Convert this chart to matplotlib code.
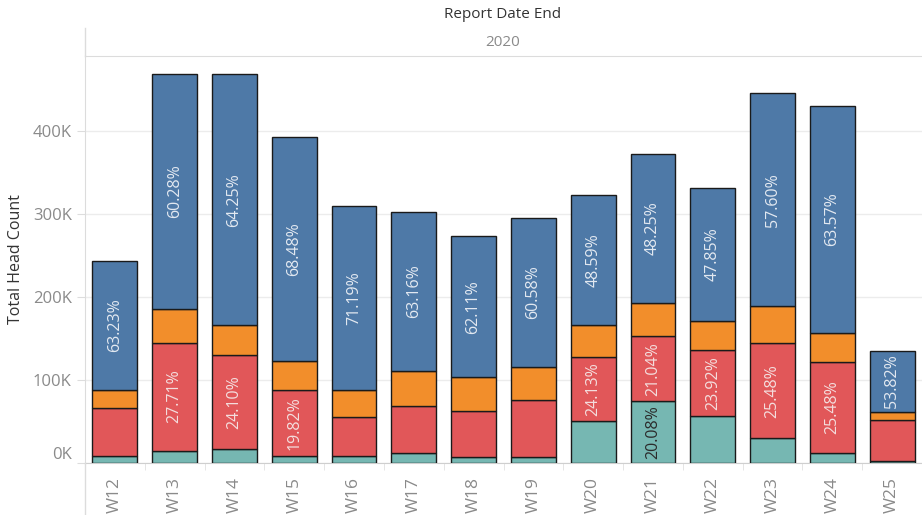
import matplotlib
matplotlib.use("Agg")
import matplotlib.pyplot as plt
from matplotlib.lines import Line2D
import numpy as np

plt.rcParams['font.family'] = ['Open Sans', 'DejaVu Sans']

weeks = ["W12", "W13", "W14", "W15", "W16", "W17", "W18",
         "W19", "W20", "W21", "W22", "W23", "W24", "W25"]
# segment values in thousands (bottom to top)
teal = [8.4, 15, 16.5, 8.4, 8.4, 11.7, 7, 7, 50, 74.5, 57, 30, 12, 2.4]
red = [57.6, 130, 113.5, 79.6, 46.6, 57.3, 56, 68.5, 78, 78, 79, 114, 110, 49.6]
orange = [22, 41, 36, 35, 33, 42, 40, 39.5, 38, 40, 35, 45, 35, 10]
blue = [155.5, 282, 302, 269, 222, 191, 170, 180.5, 157, 180, 160, 256, 273, 73]

blue_lbl = ["63.23%", "60.28%", "64.25%", "68.48%", "71.19%", "63.16%", "62.11%",
            "60.58%", "48.59%", "48.25%", "47.85%", "57.60%", "63.57%", "53.82%"]
red_lbl = ["", "27.71%", "24.10%", "19.82%", "", "", "",
           "", "24.13%", "21.04%", "23.92%", "25.48%", "25.48%", ""]
teal_lbl = ["", "", "", "", "", "", "", "", "", "20.08%", "", "", "", ""]

colors = {"teal": "#76b7b2", "red": "#e15759", "orange": "#f28e2b", "blue": "#4e79a7"}

fig = plt.figure(figsize=(9.22, 5.15), dpi=100)
ax = fig.add_axes([85/922, 52/515, 837/922, 407/515])

x = np.arange(len(weeks))
t = np.array(teal) * 1000
r = np.array(red) * 1000
o = np.array(orange) * 1000
b = np.array(blue) * 1000

w = 0.75
ax.bar(x, t, w, color=colors["teal"], edgecolor="#1a1a1a", linewidth=1, zorder=3)
ax.bar(x, r, w, bottom=t, color=colors["red"], edgecolor="#1a1a1a", linewidth=1, zorder=3)
ax.bar(x, o, w, bottom=t + r, color=colors["orange"], edgecolor="#1a1a1a", linewidth=1, zorder=3)
ax.bar(x, b, w, bottom=t + r + o, color=colors["blue"], edgecolor="#1a1a1a", linewidth=1, zorder=3)

for i in range(len(weeks)):
    ax.text(x[i], t[i] + r[i] + o[i] + b[i] / 2, blue_lbl[i], rotation=90,
            ha="center", va="center", color="#e3e9f1", fontsize=11.5, zorder=4)
    if red_lbl[i]:
        ax.text(x[i], t[i] + r[i] / 2, red_lbl[i], rotation=90,
                ha="center", va="center", color="#f4dede", fontsize=11.5, zorder=4)
    if teal_lbl[i]:
        ax.text(x[i], t[i] / 2, teal_lbl[i], rotation=90,
                ha="center", va="center", color="#2b2b2b", fontsize=11.5, zorder=4)

ax.set_xlim(-0.5, 13.45)
ax.set_ylim(0, 490000)
ax.set_yticks([0, 100000, 200000, 300000, 400000])
ax.set_yticklabels(["0K", "100K", "200K", "300K", "400K"])
ax.get_yticklabels()[0].set_va("bottom")
ax.set_xticks(x)
ax.set_xticklabels(weeks, rotation=90)
ax.set_xticks(np.arange(len(weeks)) + 0.5, minor=True)

ax.grid(axis="y", color="#ececec", linewidth=1, zorder=0)
ax.tick_params(axis="y", colors="#dddddd", labelcolor="#8a8a8a", labelsize=12, length=6)
ax.tick_params(axis="x", which="major", length=0, labelcolor="#8a8a8a", labelsize=12.5, pad=10)
ax.tick_params(axis="x", which="minor", colors="#e0e0e0", length=5)

ax.spines["right"].set_visible(False)
ax.spines["left"].set_color("#dcdcdc")
ax.spines["bottom"].set_color("#cfcfcf")
ax.spines["top"].set_color("#dcdcdc")

ax.set_ylabel("Total Head Count", fontsize=11.5, color="#333333", labelpad=6)

fig.add_artist(Line2D([85/922, 85/922], [0, 52/515], color="#dcdcdc", linewidth=1))
fig.add_artist(Line2D([85/922, 85/922], [459/515, 487/515], color="#dcdcdc", linewidth=1))
fig.text(503/922, 1 - 15/515, "Report Date End", ha="center", va="center",
         fontsize=11, color="#333333")
fig.text(503/922, 1 - 43/515, "2020", ha="center", va="center",
         fontsize=11, color="#8a8a8a")

fig.savefig("out.png", dpi=100)
